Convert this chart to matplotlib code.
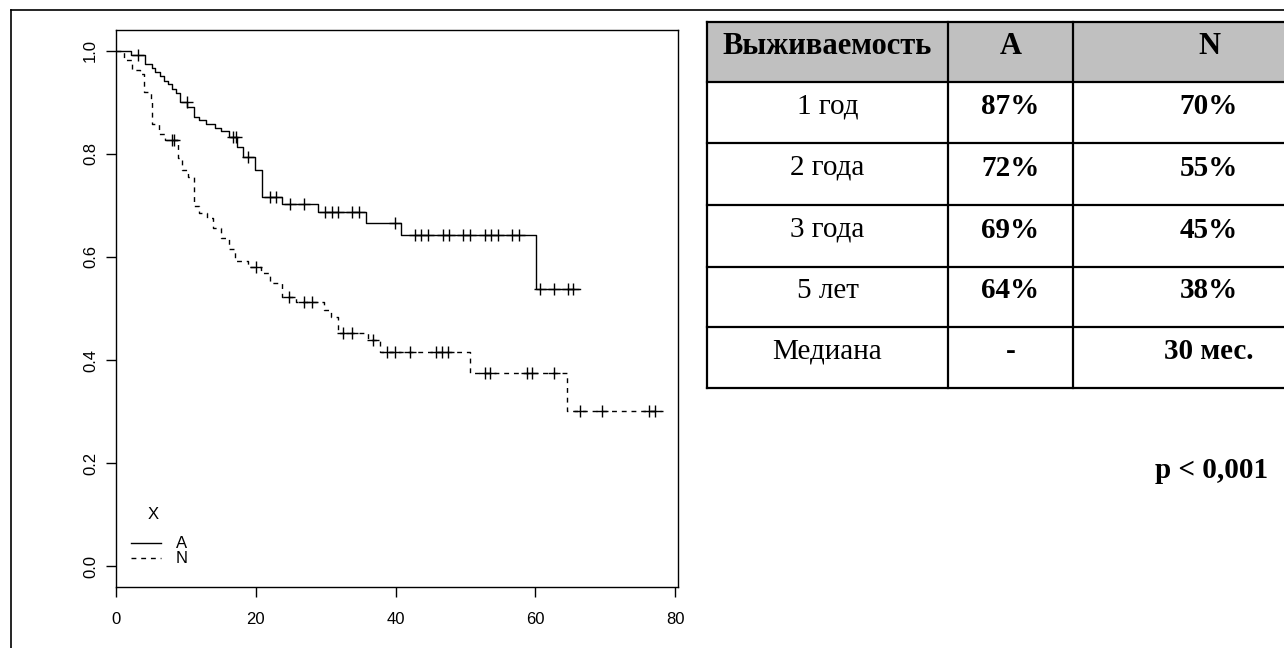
import matplotlib.pyplot as plt
import numpy as np
from matplotlib.lines import Line2D
from matplotlib.patches import Rectangle

# Kaplan-Meier steps: (time in months, survival after the drop)
a_times = [2.1, 4.1, 5.1, 5.6, 6.3, 6.9, 7.5, 8.0, 8.6, 9.1, 10.2, 11.1, 11.9, 12.9, 14.1, 15.0,
           16.1, 17.3, 18.1, 19.9, 20.9, 23.8, 28.9, 35.8, 40.8, 60.1]
a_surv = [0.992, 0.975, 0.967, 0.958, 0.951, 0.942, 0.935, 0.926, 0.917, 0.900, 0.890, 0.872,
          0.866, 0.858, 0.850, 0.844, 0.833, 0.814, 0.793, 0.768, 0.717, 0.703, 0.687, 0.666,
          0.643, 0.537]
a_cens = [3.1, 10.1, 16.8, 17.2, 18.9, 22.0, 22.9, 24.9, 26.9, 29.9, 30.9, 31.8, 33.8, 34.8,
          39.9, 42.8, 43.7, 44.7, 46.8, 47.7, 49.7, 50.6, 52.8, 53.7, 54.6, 56.7, 57.7,
          60.7, 62.7, 64.6, 65.4]
a_end = 66.4

n_times = [1.15, 2.3, 3.4, 4.0, 5.0, 5.1, 6.2, 7.0, 8.9, 9.5, 10.3, 11.1, 11.9, 13.0, 13.9,
           15.0, 16.1, 17.0, 18.9, 20.8, 22.0, 23.8, 25.8, 29.8, 30.7, 31.8, 36.1, 37.8, 50.6, 64.5]
n_surv = [0.981, 0.963, 0.955, 0.919, 0.906, 0.857, 0.839, 0.826, 0.792, 0.768, 0.755, 0.698,
          0.685, 0.676, 0.656, 0.636, 0.616, 0.592, 0.581, 0.568, 0.549, 0.523, 0.512, 0.497,
          0.483, 0.452, 0.438, 0.415, 0.375, 0.302]
n_cens = [8.0, 8.3, 20.0, 24.8, 26.9, 28.0, 32.5, 33.7, 36.8, 38.8, 39.9, 42.0, 45.8, 46.7,
          47.5, 52.8, 53.5, 58.8, 59.5, 62.6, 66.4, 69.5, 76.2, 77.1]
n_end = 78.3

# table
col_head = ['Выживаемость', 'A', 'N']
row_names = ['1 год', '2 года', '3 года', '5 лет', 'Медиана']
a_vals = ['87%', '72%', '69%', '64%', '-']
n_vals = ['70%', '55%', '45%', '38%', '30 мес.']
p_text = 'p < 0,001'

W, H = 1284, 648
sans = ['Liberation Sans', 'DejaVu Sans']
serif = ['Liberation Serif', 'DejaVu Serif']


def km_curve(times, surv, end):
    t = np.r_[0.0, times, end]
    s = np.r_[1.0, surv, surv[-1]]
    return t, s


def surv_at(times, surv, x):
    s = np.r_[1.0, surv]
    return s[np.searchsorted(times, x, side='right')]


fig = plt.figure(figsize=(W / 100, H / 100), dpi=100)

# outer frame of the embedded picture
fig.add_artist(Line2D([11 / W, 11 / W], [0, 1 - 10 / H], color='black', lw=1.2))
fig.add_artist(Line2D([11 / W, 1], [1 - 10 / H, 1 - 10 / H], color='black', lw=1.2))

ax = fig.add_axes([116 / W, 1 - 587 / H, (678 - 116) / W, (587 - 30) / H])
ta, sa = km_curve(a_times, a_surv, a_end)
tn, sn = km_curve(n_times, n_surv, n_end)
ax.step(ta, sa, where='post', color='black', lw=1.0)
ax.step(tn, sn, where='post', color='black', lw=1.0, dashes=(3.5, 3.5))
ax.plot(a_cens, surv_at(a_times, a_surv, a_cens), '+', color='black', ms=9, mew=1.0)
ax.plot(n_cens, surv_at(n_times, n_surv, n_cens), '+', color='black', ms=9, mew=1.0)

ax.set_xlim(0, 80.4)
ax.set_ylim(-0.04, 1.04)
ax.set_xticks([0, 20, 40, 60, 80])
ax.set_yticks([0.0, 0.2, 0.4, 0.6, 0.8, 1.0])
ax.set_yticklabels(['0.0', '0.2', '0.4', '0.6', '0.8', '1.0'], rotation=90, va='center')
ax.tick_params(direction='out', length=7, width=1, labelsize=12, colors='black')
ax.tick_params(axis='x', pad=11)
ax.tick_params(axis='y', pad=6)
for lab in ax.get_xticklabels() + ax.get_yticklabels():
    lab.set_family(sans)
for sp in ax.spines.values():
    sp.set_linewidth(1.0)

handles = [Line2D([], [], color='black', lw=1.0),
           Line2D([], [], color='black', lw=1.0, dashes=(3.5, 3.5))]
ax.legend(handles, ['A', 'N'], loc='lower left', bbox_to_anchor=(0.0, 0.01),
          frameon=False, handlelength=1.8, handletextpad=0.9, labelspacing=0.0,
          prop={'family': sans, 'size': 12})
ax.text(0.066, 0.131, 'X', transform=ax.transAxes, ha='center', va='center',
        family=sans, fontsize=12)

# table drawn in pixel coordinates (it runs past the right edge of the picture)
tab = fig.add_axes([0, 0, 1, 1])
tab.set_xlim(0, W)
tab.set_ylim(H, 0)
tab.axis('off')
x_edges = [707, 948, 1073, 1345]
y_edges = [22, 82, 143, 205, 267, 327, 388]
tab.add_patch(Rectangle((x_edges[0], y_edges[0]), x_edges[-1] - x_edges[0], y_edges[1] - y_edges[0],
                        facecolor='#c0c0c0', edgecolor='none'))
for x in x_edges:
    tab.plot([x, x], [y_edges[0], y_edges[-1]], color='black', lw=1.6)
for y in y_edges:
    tab.plot([x_edges[0], x_edges[-1]], [y, y], color='black', lw=1.6)

cx = [(x_edges[i] + x_edges[i + 1]) / 2 for i in range(3)]
for i, h in enumerate(col_head):
    tab.text(cx[i], (y_edges[0] + y_edges[1]) / 2 - 5, h, ha='center', va='center',
             family=serif, weight='bold', fontsize=22)
for r in range(len(row_names)):
    yc = (y_edges[r + 1] + y_edges[r + 2]) / 2 - 6
    tab.text(cx[0], yc, row_names[r], ha='center', va='center', family=serif, fontsize=21)
    tab.text(cx[1], yc, a_vals[r], ha='center', va='center', family=serif, weight='bold', fontsize=21)
    tab.text(cx[2], yc, n_vals[r], ha='center', va='center', family=serif, weight='bold', fontsize=21)

tab.text(1268, 470, p_text, ha='right', va='center', family=serif, weight='bold', fontsize=21)

plt.savefig('out.png', dpi=100)
